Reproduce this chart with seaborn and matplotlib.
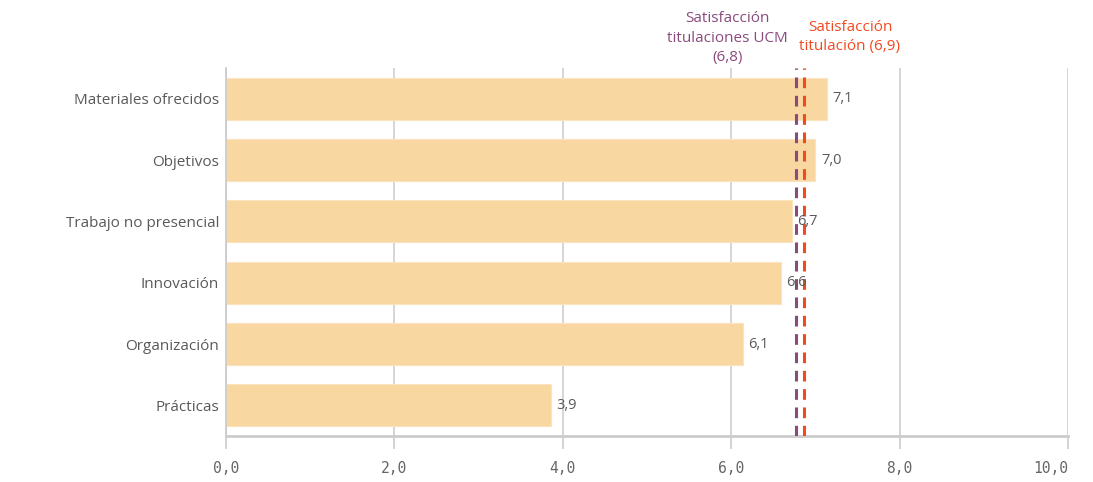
import matplotlib.pyplot as plt
import seaborn as sns
import pandas as pd

# data
categorias = ['Materiales ofrecidos', 'Objetivos', 'Trabajo no presencial',
              'Innovación', 'Organización', 'Prácticas']
valores = [7.14, 7.00, 6.72, 6.59, 6.14, 3.86]
ref_ucm = 6.77
ref_titulacion = 6.86
ticks_x = [0, 2, 4, 6, 8, 10]

df = pd.DataFrame({'categoria': categorias, 'valor': valores})

sns.set_theme(style='white')
plt.rcParams['font.family'] = ['Open Sans', 'DejaVu Sans']

fig = plt.figure(figsize=(10.93, 4.82), dpi=100)
ax = fig.add_axes([226 / 1093, 46 / 482, 842 / 1093, 368 / 482])

sns.barplot(data=df, x='valor', y='categoria', orient='h', color='#F9D7A1',
            saturation=1, width=0.69, edgecolor='#FBE3BE', linewidth=0.8,
            ax=ax, zorder=2)

ax.set_xlim(0, 10)
ax.set_ylim(5.5, -0.5)
ax.set_xlabel('')
ax.set_ylabel('')
ax.set_xticks(ticks_x)
ax.set_xticklabels([f'{t:.1f}'.replace('.', ',') for t in ticks_x],
                   family='DejaVu Sans Mono', fontsize=10.5, color='#666666')
ax.get_xticklabels()[-1].set_horizontalalignment('right')
ax.tick_params(axis='x', length=9, width=1.2, color='#CCCCCC', pad=9, bottom=True)
ax.tick_params(axis='y', length=0, pad=5, labelsize=11, labelcolor='#595959')

ax.grid(axis='x', color='#D2D2D2', linewidth=1.3, zorder=0)
ax.grid(axis='y', visible=False)
for s in ['top', 'right']:
    ax.spines[s].set_visible(False)
ax.spines['left'].set_color('#C8C8C8')
ax.spines['left'].set_linewidth(1.2)
ax.spines['bottom'].set_color('#CCCCCC')
ax.spines['bottom'].set_linewidth(2)

# value labels
for i, v in enumerate(valores):
    ax.annotate(f'{v:.1f}'.replace('.', ','), xy=(v, i), xytext=(4, 0),
                textcoords='offset points', va='center', ha='left',
                fontsize=10.5, color='#595959', zorder=4)

# reference lines
ax.axvline(ref_ucm, color='#8B4A7D', linestyle=(0, (3.5, 2.5)), linewidth=2.2, zorder=3)
ax.axvline(ref_titulacion, color='#F24A20', linestyle=(0, (3.5, 2.5)), linewidth=2.2, zorder=3)

ax.annotate('Satisfacción\ntitulaciones UCM\n(6,8)', xy=(ref_ucm, 1),
            xycoords=('data', 'axes fraction'), xytext=(-6, 2),
            textcoords='offset points', ha='right', va='bottom',
            multialignment='center', fontsize=11, color='#8B4A7D',
            linespacing=1.4, annotation_clip=False)
ax.annotate('Satisfacción\ntitulación (6,9)', xy=(ref_titulacion, 1),
            xycoords=('data', 'axes fraction'), xytext=(-3, 10),
            textcoords='offset points', ha='left', va='bottom',
            multialignment='center', fontsize=11, color='#F24A20',
            linespacing=1.4, annotation_clip=False)

fig.savefig('out.png', dpi=100)
